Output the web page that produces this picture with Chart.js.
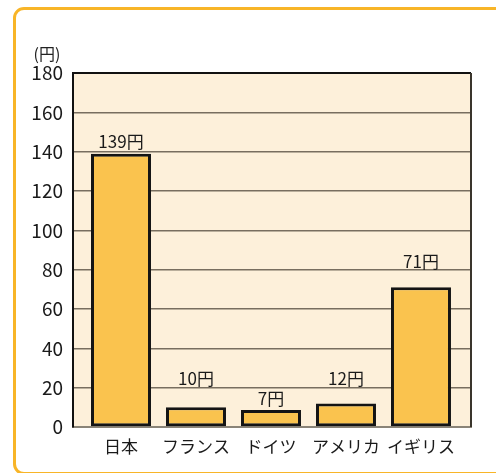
<!DOCTYPE html>
<html>
<head>
<meta charset="utf-8">
<script src="https://cdn.jsdelivr.net/npm/chart.js@4"></script>
<style>
  html, body { margin: 0; padding: 0; background: #fff; overflow: hidden; }
  body { width: 496px; height: 473px; position: relative; }
  .frame {
    position: absolute; left: 13px; top: 7px; width: 520px; height: 462px;
    border: 3px solid #f8b528; border-radius: 11px; box-sizing: content-box;
  }
  .wrap { position: absolute; left: 0; top: 0; width: 496px; height: 473px; }
</style>
</head>
<body>
<div class="frame"></div>
<div class="wrap"><canvas id="c" width="496" height="473"></canvas></div>
<script>
// ── dados ──────────────────────────────────────────────
const categories = ['日本', 'フランス', 'ドイツ', 'アメリカ', 'イギリス'];
const values = [139, 10, 8.6, 12, 71];
const valueLabels = ['139円', '10円', '7円', '12円', '71円'];
const yTicks = [0, 20, 40, 60, 80, 100, 120, 140, 160, 180];
const unitLabel = '(円)';

const FONT = '"Noto Sans CJK JP", "Noto Sans", sans-serif';

// ── fundo + borda direita ──────────────────────────────
const areaPlugin = {
  id: 'area',
  beforeDraw(chart) {
    const { ctx, chartArea: a } = chart;
    ctx.save();
    ctx.fillStyle = '#fdf0da';
    ctx.fillRect(a.left, a.top, a.right - a.left, a.bottom - a.top);
    ctx.restore();
  },
  afterDraw(chart) {
    const { ctx, chartArea: a } = chart;
    ctx.save();
    ctx.strokeStyle = '#3a352c';
    ctx.lineWidth = 2;
    ctx.beginPath();
    ctx.moveTo(a.right, a.top);
    ctx.lineTo(a.right, a.bottom);
    ctx.stroke();
    // unidade
    ctx.fillStyle = '#222';
    ctx.font = '16px ' + FONT;
    ctx.textAlign = 'center';
    ctx.textBaseline = 'middle';
    ctx.fillText(unitLabel, 47, 54);
    ctx.restore();
  }
};

// ── rótulos acima das barras ───────────────────────────
const labelLift = [6, 22, 5, 18, 19];
const barLabels = {
  id: 'barLabels',
  afterDatasetsDraw(chart) {
    const { ctx } = chart;
    const meta = chart.getDatasetMeta(0);
    ctx.save();
    ctx.fillStyle = '#1a1a1a';
    ctx.font = '17px ' + FONT;
    ctx.textAlign = 'center';
    ctx.textBaseline = 'alphabetic';
    meta.data.forEach((bar, i) => {
      ctx.fillText(valueLabels[i], bar.x, bar.y - labelLift[i]);
    });
    ctx.restore();
  }
};

new Chart(document.getElementById('c'), {
  type: 'bar',
  data: {
    datasets: [{
      data: categories.map((c, i) => ({ x: i + 1, y: values[i] })),
      backgroundColor: '#fac34e',
      borderColor: '#141414',
      borderWidth: 3,
      borderSkipped: false,
      barPercentage: 0.8,
      categoryPercentage: 1
    }]
  },
  options: {
    responsive: false,
    animation: false,
    events: [],
    layout: { padding: { left: 0, top: 73, right: 25, bottom: 0 } },
    plugins: { legend: { display: false }, tooltip: { enabled: false } },
    scales: {
      x: {
        type: 'linear',
        min: 0.36,
        max: 5.667,
        offset: false,
        afterFit: s => { s.height = 46; },
        afterBuildTicks: s => { s.ticks = categories.map((c, i) => ({ value: i + 1 })); },
        grid: { display: false, drawTicks: false },
        border: { display: true, color: '#8a8478', width: 2 },
        ticks: {
          padding: 9,
          color: '#1a1a1a',
          font: { family: FONT, size: 17 },
          autoSkip: false,
          maxRotation: 0,
          callback: v => categories[v - 1] || ''
        }
      },
      y: {
        min: 0,
        max: 180,
        afterFit: s => { s.width = 73; },
        afterBuildTicks: s => { s.ticks = yTicks.map(v => ({ value: v })); },
        grid: {
          drawTicks: false,
          color: c => c.tick.value === 180 ? '#111' : c.tick.value === 0 ? '#8a8478' : '#786e5f',
          lineWidth: c => c.tick.value === 180 ? 2 : 1.5
        },
        border: { display: true, color: '#111', width: 2 },
        ticks: {
          padding: 10,
          color: '#1a1a1a',
          font: { family: FONT, size: 19 }
        }
      }
    }
  },
  plugins: [areaPlugin, barLabels]
});
</script>
</body>
</html>
